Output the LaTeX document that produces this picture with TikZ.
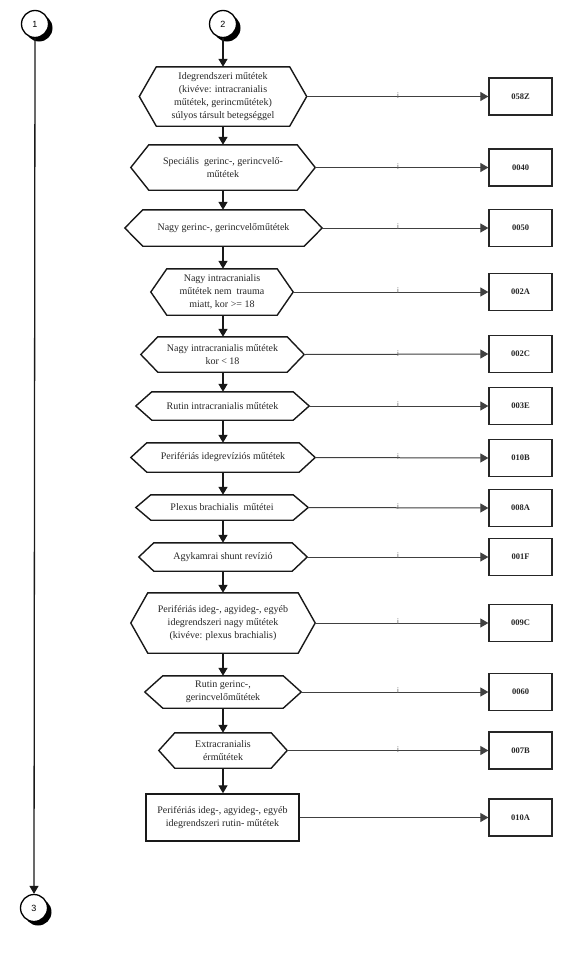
\documentclass[tikz,border=0pt]{standalone}
\usepackage{fontspec}
\setmainfont{Liberation Serif}
\newfontfamily\circfont{Liberation Sans}
\usetikzlibrary{arrows.meta,shadows,calc}
\newcommand\drawhex[2]{\draw[hexline] ($(#1.north west)+(#2,0)$) -- ($(#1.north east)+(-#2,0)$) -- (#1.east) -- ($(#1.south east)+(-#2,0)$) -- ($(#1.south west)+(#2,0)$) -- (#1.west) -- cycle;}
\tikzset{
  hexnode/.style={rectangle,draw=none,inner sep=1pt,align=center,font=\fontsize{10}{13}\selectfont,text=black!85},
  hexline/.style={line width=1.4pt,black!90,line join=miter},
  rectnode/.style={rectangle,draw=black!90,line width=1.4pt,inner sep=1pt,align=center,font=\fontsize{10}{13}\selectfont,text=black!85},
  codebox/.style={rectangle,draw=black!85,line width=1.3pt,minimum width=63pt,minimum height=37pt,inner sep=1pt,font=\fontsize{8.5}{10}\selectfont\bfseries,text=black!85},
  conncirc/.style={circle,draw=black,line width=1.3pt,fill=white,minimum size=27pt,inner sep=0pt,font=\circfont\fontsize{9}{10}\selectfont,
    drop shadow={shadow xshift=4pt,shadow yshift=-4pt,fill=black,opacity=1}},
  varrow/.style={line width=1.3pt,black!90,-{Triangle[length=8pt,width=9pt]}},
  harrow/.style={line width=1pt,black!75,-{Triangle[length=8pt,width=9pt]}},
  ilabel/.style={inner sep=0pt,font=\circfont\fontsize{8}{8}\selectfont,text=black!60},
}
\begin{document}
\begin{tikzpicture}[x=1pt,y=-1pt]
\path[use as bounding box,fill=white] (0,0) rectangle (586,953);
% connector circles
\node[conncirc] (c1) at (35,24) {1};
\node[conncirc] (c2) at (223,24) {2};
\node[conncirc] (c3) at (34,908) {3};
% hexagon nodes
\node[hexnode,minimum width=167pt,minimum height=59pt] (h1) at (223,96.5) {Idegrendszeri műtétek\\(kivéve: intracranialis\\műtétek, gerincműtétek)\\súlyos társult betegséggel};
\node[hexnode,minimum width=184pt,minimum height=45pt] (h2) at (223,167.5) {Speciális\ \ gerinc-, gerincvelő-\\műtétek};
\node[hexnode,minimum width=197pt,minimum height=36pt] (h3) at (223.5,228) {Nagy gerinc-, gerincvelőműtétek};
\node[hexnode,minimum width=142pt,minimum height=46pt] (h4) at (222,292) {Nagy intracranialis\\műtétek nem\ \ trauma\\miatt, kor >= 18};
\node[hexnode,minimum width=163pt,minimum height=35pt] (h5) at (222.5,354.5) {Nagy intracranialis műtétek\\kor < 18};
\node[hexnode,minimum width=173pt,minimum height=28pt] (h6) at (222.5,406) {Rutin intracranialis műtétek};
\node[hexnode,minimum width=184pt,minimum height=29pt] (h7) at (223,457.5) {Perifériás idegrevíziós műtétek};
\node[hexnode,minimum width=172pt,minimum height=25pt] (h8) at (222,507.5) {Plexus brachialis\ \ műtétei};
\node[hexnode,minimum width=168pt,minimum height=28pt] (h9) at (223,557) {Agykamrai shunt revízió};
\node[hexnode,minimum width=184pt,minimum height=60pt] (h10) at (223,623) {Perifériás ideg-, agyideg-, egyéb\\idegrendszeri nagy műtétek\\(kivéve: plexus brachialis)};
\node[hexnode,minimum width=156pt,minimum height=32pt] (h11) at (223,692) {Rutin gerinc-,\\gerincvelőműtétek};
\node[hexnode,minimum width=128pt,minimum height=35pt] (h12) at (223,750.5) {Extracranialis\\érműtétek};
\node[rectnode,minimum width=153pt,minimum height=47pt] (h13) at (222.5,817.5) {Perifériás ideg-, agyideg-, egyéb\\idegrendszeri rutin- műtétek};
\drawhex{h1}{17}
\drawhex{h2}{18}
\drawhex{h3}{18}
\drawhex{h4}{16}
\drawhex{h5}{17}
\drawhex{h6}{16}
\drawhex{h7}{16}
\drawhex{h8}{15}
\drawhex{h9}{15}
\drawhex{h10}{17}
\drawhex{h11}{18}
\drawhex{h12}{16}
% code boxes
\node[codebox] (b1) at (520.5,96.5) {058Z};
\node[codebox] (b2) at (520.5,167.5) {0040};
\node[codebox] (b3) at (520.5,228) {0050};
\node[codebox] (b4) at (520.5,292) {002A};
\node[codebox] (b5) at (520.5,354) {002C};
\node[codebox] (b6) at (520.5,406) {003E};
\node[codebox] (b7) at (520.5,458) {010B};
\node[codebox] (b8) at (520.5,508) {008A};
\node[codebox] (b9) at (520.5,557) {001F};
\node[codebox] (b10) at (520.5,623) {009C};
\node[codebox] (b11) at (520.5,692) {0060};
\node[codebox] (b12) at (520.5,750.5) {007B};
\node[codebox] (b13) at (520.5,817.5) {010A};
% vertical flow
\draw[varrow] (c1.south) -- (c3.north);
\draw[varrow] (c2.south) -- (h1.north);
\foreach \a/\b in {h1/h2,h2/h3,h3/h4,h4/h5,h5/h6,h6/h7,h7/h8,h8/h9,h9/h10,h10/h11,h11/h12,h12/h13}
  \draw[varrow] (\a.south -| 223,0) -- (\b.north -| 223,0);
% horizontal connectors
\foreach \i in {1,...,13}
  \draw[harrow] (h\i.east) -- (b\i.west);
\foreach \i in {1,...,12}
  \node[ilabel] (i\i) at ($(h\i.east -| 398,0)+(0,-1)$) {i};
\end{tikzpicture}
\end{document}
